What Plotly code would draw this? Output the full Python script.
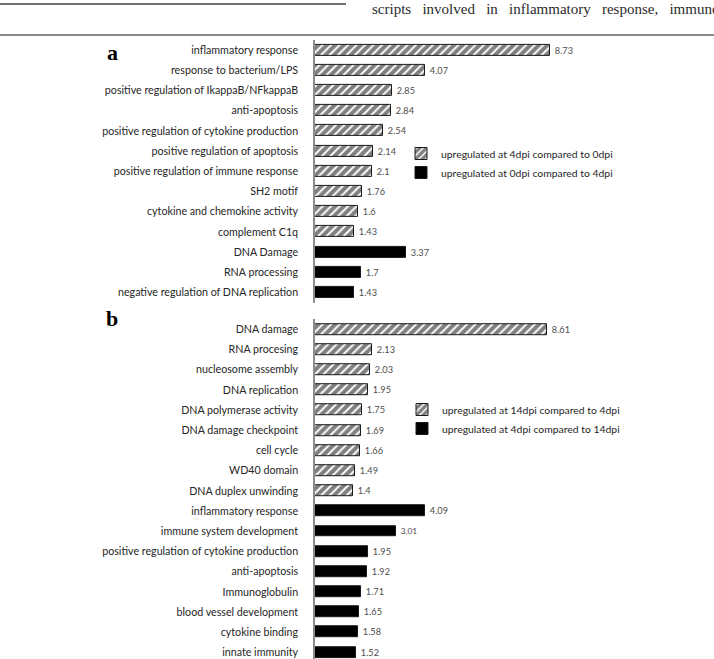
import plotly.graph_objects as go

W, H = 714, 659

# ---------------- data ----------------
a_cats = ["inflammatory response", "response to bacterium/LPS",
          "positive regulation of IkappaB/NFkappaB", "anti-apoptosis",
          "positive regulation of cytokine production", "positive regulation of apoptosis",
          "positive regulation of immune response", "SH2 motif",
          "cytokine and chemokine activity", "complement C1q",
          "DNA Damage", "RNA processing", "negative regulation of DNA replication"]
a_up_cats = a_cats[:10]
a_up_vals = [8.73, 4.07, 2.85, 2.84, 2.54, 2.14, 2.1, 1.76, 1.6, 1.43]
a_down_cats = a_cats[10:]
a_down_vals = [3.37, 1.7, 1.43]
a_up_name = "upregulated at 4dpi compared to 0dpi"
a_down_name = "upregulated at 0dpi compared to 4dpi"

b_cats = ["DNA damage", "RNA procesing", "nucleosome assembly", "DNA replication",
          "DNA polymerase activity", "DNA damage checkpoint", "cell cycle",
          "WD40 domain", "DNA duplex unwinding",
          "inflammatory response", "immune system development",
          "positive regulation of cytokine production", "anti-apoptosis",
          "Immunoglobulin", "blood vessel development", "cytokine binding",
          "innate immunity"]
b_up_cats = b_cats[:9]
b_up_vals = [8.61, 2.13, 2.03, 1.95, 1.75, 1.69, 1.66, 1.49, 1.4]
b_down_cats = b_cats[9:]
b_down_vals = [4.09, 3.01, 1.95, 1.92, 1.71, 1.65, 1.58, 1.52]
b_up_name = "upregulated at 14dpi compared to 4dpi"
b_down_name = "upregulated at 4dpi compared to 14dpi"

header_text = "scripts\u00a0\u00a0 involved\u00a0\u00a0 in\u00a0\u00a0 inflammatory\u00a0\u00a0 response,\u00a0\u00a0 immune"

# ---------------- layout helpers ----------------
def py(p):
    return 1 - p / H

def px(p):
    return p / W

AXIS_X = 315
PX_PER_UNIT = 26.93
FONT = "Lato"

hatch = dict(shape="/", fgcolor="#000000", bgcolor="#ffffff", size=6, solidity=0.68)
line = dict(color="#1a1a1a", width=1)
tfont = dict(family=FONT, size=10, color="#4d4d4d")

fig = go.Figure()

def add_panel(up_c, up_v, dn_c, dn_v, up_n, dn_n, xa, ya, lg):
    fig.add_trace(go.Bar(y=up_c, x=up_v, orientation="h", name=up_n,
                         marker=dict(color="#ffffff", pattern=hatch, line=line),
                         width=0.54, texttemplate="\u00a0%{x}", textposition="outside",
                         textfont=tfont, cliponaxis=False,
                         xaxis=xa, yaxis=ya, legend=lg))
    fig.add_trace(go.Bar(y=dn_c, x=dn_v, orientation="h", name=dn_n,
                         marker=dict(color="#000000", line=line),
                         width=0.54, texttemplate="\u00a0%{x}", textposition="outside",
                         textfont=tfont, cliponaxis=False,
                         xaxis=xa, yaxis=ya, legend=lg))

add_panel(a_up_cats, a_up_vals, a_down_cats, a_down_vals, a_up_name, a_down_name, "x", "y", "legend")
add_panel(b_up_cats, b_up_vals, b_down_cats, b_down_vals, b_up_name, b_down_name, "x2", "y2", "legend2")

xr = [0, (W - AXIS_X) / PX_PER_UNIT]
xcommon = dict(domain=[px(AXIS_X), 1], range=xr, visible=False, showgrid=False, zeroline=False)

step_a = 20.2
top_a = 50 - 0.5 * step_a
bot_a = 50 + 12.5 * step_a
step_b = 20.19
top_b = 329.3 - 0.5 * step_b
idx_bottom_b = (658.5 - 329.3) / step_b

ycommon = dict(type="category", categoryorder="array", showgrid=False, zeroline=False,
               showline=True, linecolor="#8c8c8c", linewidth=1.5, ticks="",
               ticklabelstandoff=13,
               tickfont=dict(family=FONT, size=10.7, color="#262626"))

legfont = dict(family=FONT, size=10.4, color="#262626")

fig.update_layout(
    width=W, height=H,
    margin=dict(l=0, r=0, t=0, b=0),
    paper_bgcolor="#ffffff", plot_bgcolor="rgba(0,0,0,0)",
    barmode="overlay",
    bargap=0,
    xaxis=dict(anchor="y", **xcommon),
    xaxis2=dict(anchor="y2", **xcommon),
    yaxis=dict(anchor="x", domain=[py(bot_a), py(top_a)], categoryarray=a_cats,
               range=[12.5, -0.5], **ycommon),
    yaxis2=dict(anchor="x2", domain=[py(658.5), py(top_b)], categoryarray=b_cats,
                range=[idx_bottom_b, -0.5], **ycommon),
    legend=dict(x=px(401), y=py(139), xanchor="left", yanchor="top",
                font=legfont, bgcolor="rgba(0,0,0,0)", tracegroupgap=0, itemwidth=30,
                traceorder="normal"),
    legend2=dict(x=px(402), y=py(395), xanchor="left", yanchor="top",
                 font=legfont, bgcolor="rgba(0,0,0,0)", tracegroupgap=0, itemwidth=30,
                 traceorder="normal"),
    showlegend=True,
)

# page decorations: header rule, header text, figure frame line
fig.add_shape(type="line", xref="paper", yref="paper", x0=0, x1=px(346), y0=py(4), y1=py(4),
              line=dict(color="#707070", width=2))
fig.add_shape(type="line", xref="paper", yref="paper", x0=0, x1=1, y0=py(35), y1=py(35),
              line=dict(color="#8a8a8a", width=2))
fig.add_annotation(xref="paper", yref="paper", x=px(370), y=py(9), xanchor="left", yanchor="middle",
                   text=header_text, showarrow=False,
                   font=dict(family="Liberation Serif", size=15, color="#2a2a2a"))
fig.add_annotation(xref="paper", yref="paper", x=px(112), y=py(52), xanchor="center", yanchor="middle",
                   text="a", showarrow=False,
                   font=dict(family="Liberation Serif", size=22, color="#000000", weight="bold"))
fig.add_annotation(xref="paper", yref="paper", x=px(112), y=py(318), xanchor="center", yanchor="middle",
                   text="b", showarrow=False,
                   font=dict(family="Liberation Serif", size=22, color="#000000", weight="bold"))

fig.write_html("out.html")
